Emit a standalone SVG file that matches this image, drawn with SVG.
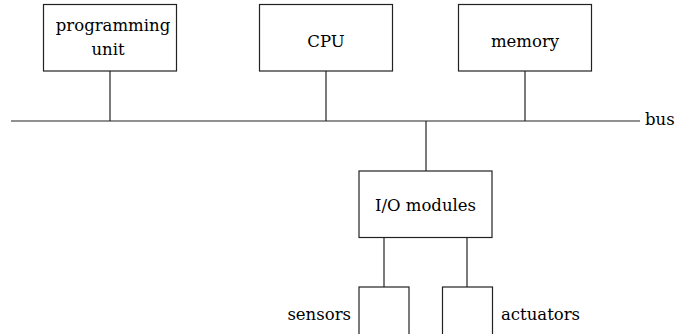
<svg xmlns="http://www.w3.org/2000/svg" width="677" height="334" viewBox="0 0 677 334">
<style>
.box{fill:#fff;stroke:#222;stroke-width:1.2}
.ln{stroke:#222;stroke-width:1.2;fill:none}
.t{font-size:16.5px;fill:#000}
.c{text-anchor:middle}
</style>
<rect width="677" height="334" fill="#fff"/>
<g id="connectors">
<line class="ln" x1="11" y1="121" x2="640" y2="121"/>
<line class="ln" x1="110" y1="71" x2="110" y2="121"/>
<line class="ln" x1="326" y1="71" x2="326" y2="121"/>
<line class="ln" x1="525" y1="71" x2="525" y2="121"/>
<line class="ln" x1="426" y1="121" x2="426" y2="171"/>
<line class="ln" x1="384" y1="237" x2="384" y2="287"/>
<line class="ln" x1="467" y1="237" x2="467" y2="287"/>
</g>
<g font-family="DejaVu Serif, serif">
<g id="bus-label"><text class="t" x="645" y="125">bus</text></g>
<g id="programming-unit">
<rect class="box" x="43.5" y="4.5" width="133" height="66.5"/>
<text class="t c" x="113" y="31">programming</text>
<text class="t c" x="108" y="55">unit</text>
</g>
<g id="cpu">
<rect class="box" x="259.5" y="4.5" width="133" height="66.5"/>
<text class="t c" x="326" y="47">CPU</text>
</g>
<g id="memory">
<rect class="box" x="458.5" y="4.5" width="133" height="66.5"/>
<text class="t c" x="525" y="47">memory</text>
</g>
<g id="io-modules">
<rect class="box" x="359" y="171" width="133" height="66.5"/>
<text class="t c" x="425.5" y="211">I/O modules</text>
</g>
<g id="sensors">
<rect class="box" x="359" y="287" width="50" height="60"/>
<text class="t" x="351" y="320" text-anchor="end">sensors</text>
</g>
<g id="actuators">
<rect class="box" x="442.5" y="287" width="50" height="60"/>
<text class="t" x="501" y="320">actuators</text>
</g>
</g>
</svg>
